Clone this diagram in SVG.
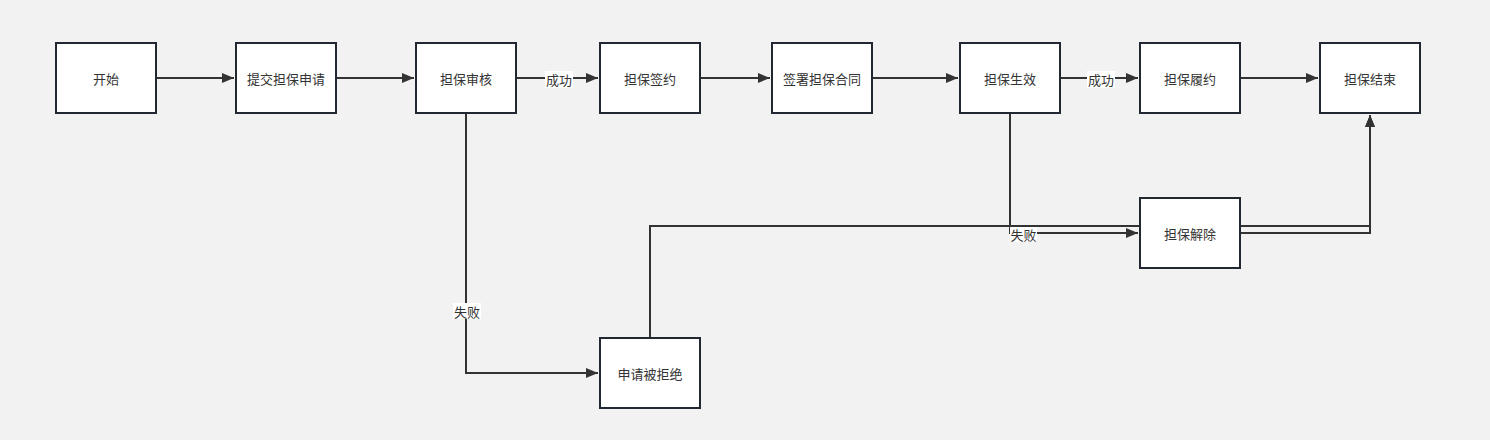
<svg xmlns="http://www.w3.org/2000/svg" width="1490" height="440" viewBox="0 0 1490 440">
<defs>
<marker id="arr" markerWidth="12" markerHeight="10" refX="12" refY="5" orient="auto" markerUnits="userSpaceOnUse">
<path d="M0,0 L12,5 L0,10 Z" fill="#333"/>
</marker>
<style>
.box{fill:#fff;stroke:#222831;stroke-width:2}
.t{font-family:"Noto Sans CJK SC","Microsoft YaHei",sans-serif;font-size:13px;fill:#333;text-anchor:middle;dominant-baseline:central}
.e{fill:none;stroke:#333;stroke-width:2}
.lb{fill:#fff}
</style>
</defs>
<rect width="1490" height="440" fill="#f2f2f2"/>
<g id="connectors">
<path class="e" d="M156,78 H234" marker-end="url(#arr)"/>
<path class="e" d="M336,78 H414" marker-end="url(#arr)"/>
<path class="e" d="M516,78 H598" marker-end="url(#arr)"/>
<path class="e" d="M700,78 H770" marker-end="url(#arr)"/>
<path class="e" d="M872,78 H958" marker-end="url(#arr)"/>
<path class="e" d="M1060,78 H1138" marker-end="url(#arr)"/>
<path class="e" d="M1240,78 H1318" marker-end="url(#arr)"/>
<path class="e" d="M466,113 V373 H598" marker-end="url(#arr)"/>
<path class="e" d="M650,338 V226 H1370 V115" marker-end="url(#arr)"/>
<path class="e" d="M1010,113 V233 H1138" marker-end="url(#arr)"/>
<path class="e" d="M1240,233 H1370 V115" marker-end="url(#arr)"/>
<rect class="lb" x="545" y="71" width="28" height="17"/>
<text class="t" x="559" y="79">成功</text>
<rect class="lb" x="1087" y="71" width="28" height="17"/>
<text class="t" x="1101" y="79">成功</text>
<rect class="lb" x="453" y="303" width="28" height="16"/>
<text class="t" x="467" y="311">失败</text>
<rect class="lb" x="1010" y="227" width="27" height="15"/>
<text class="t" x="1023.5" y="234">失败</text>
</g>
<g id="n1"><rect class="box" x="56" y="43" width="100" height="70"/><text class="t" x="106" y="78">开始</text></g>
<g id="n2"><rect class="box" x="236" y="43" width="100" height="70"/><text class="t" x="286" y="78">提交担保申请</text></g>
<g id="n3"><rect class="box" x="416" y="43" width="100" height="70"/><text class="t" x="466" y="78">担保审核</text></g>
<g id="n4"><rect class="box" x="600" y="43" width="100" height="70"/><text class="t" x="650" y="78">担保签约</text></g>
<g id="n5"><rect class="box" x="772" y="43" width="100" height="70"/><text class="t" x="822" y="78">签署担保合同</text></g>
<g id="n6"><rect class="box" x="960" y="43" width="100" height="70"/><text class="t" x="1010" y="78">担保生效</text></g>
<g id="n7"><rect class="box" x="1140" y="43" width="100" height="70"/><text class="t" x="1190" y="78">担保履约</text></g>
<g id="n8"><rect class="box" x="1320" y="43" width="100" height="70"/><text class="t" x="1370" y="78">担保结束</text></g>
<g id="n9"><rect class="box" x="1140" y="198" width="100" height="70"/><text class="t" x="1190" y="233">担保解除</text></g>
<g id="n10"><rect class="box" x="600" y="338" width="100" height="70"/><text class="t" x="650" y="373">申请被拒绝</text></g>
</svg>
